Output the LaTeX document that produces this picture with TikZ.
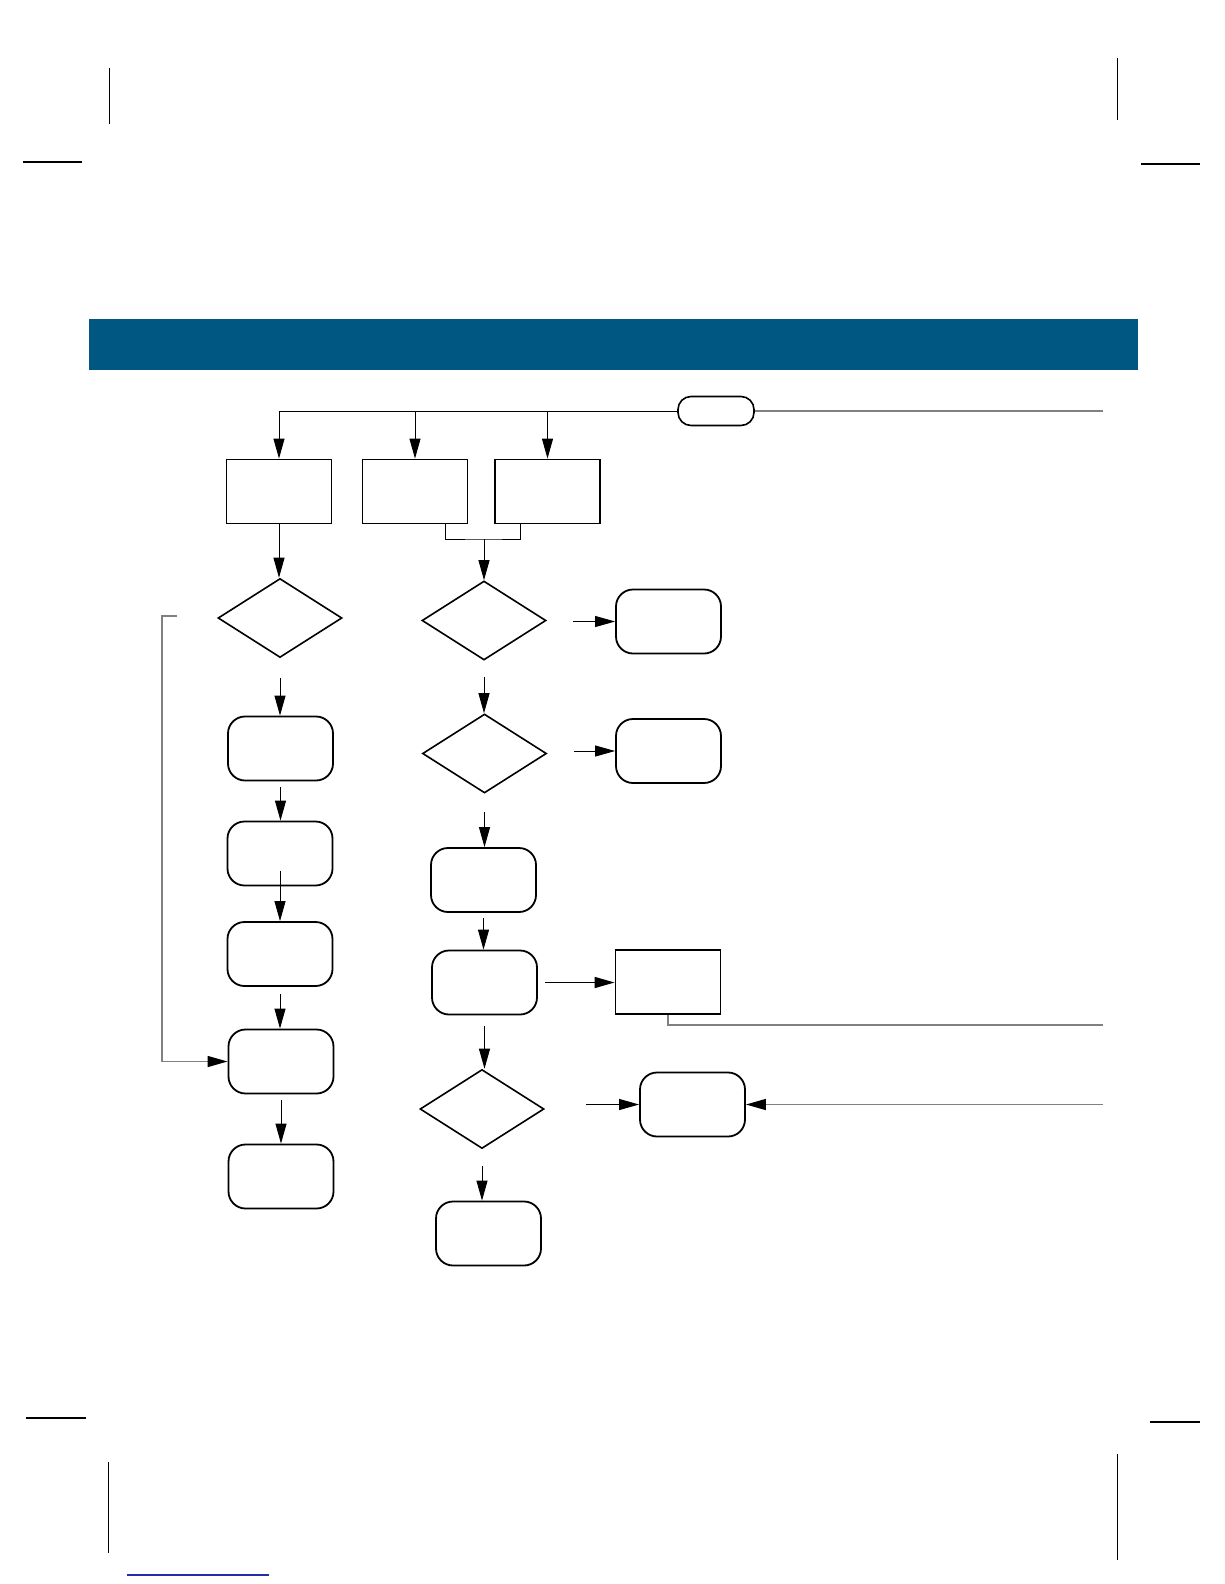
\documentclass[tikz,border=0pt]{standalone}
\usepackage{tikz}
\usetikzlibrary{shapes.geometric, arrows.meta, calc}
\definecolor{bannerblue}{RGB}{0,87,130}
\definecolor{linkblue}{RGB}{35,45,170}

\begin{document}
\begin{tikzpicture}[x=1pt, y=-1pt,
    box/.style={draw, line width=1.8pt, minimum width=105pt, minimum height=64pt, inner sep=0pt},
    roundbox/.style={box, rounded corners=17pt},
    decision/.style={draw, diamond, line width=1.6pt, minimum width=124pt, minimum height=79pt, inner sep=0pt},
    terminal/.style={draw, line width=1.6pt, rounded corners=13pt, minimum width=76pt, minimum height=29pt, inner sep=0pt},
    flow/.style={-{Triangle[length=20pt, width=11pt]}, line width=0.95pt},
    link/.style={line width=1.3pt, gray},
    crop/.style={line width=1pt, black}]
        \useasboundingbox (0,0) rectangle (1224,1584);
        % Crop marks
        \draw[crop] (109,68) -- (109,124);
        \draw[crop, line width=1.6pt] (23,162) -- (82,162);
        \draw[crop] (1117,58) -- (1117,120);
        \draw[crop, line width=1.6pt] (1141,164) -- (1200,164);
        \draw[crop, line width=1.6pt] (26,1418) -- (86,1418);
        \draw[crop] (108.5,1462) -- (108.5,1553);
        \draw[crop, line width=1.6pt] (1150,1422) -- (1200,1422);
        \draw[crop] (1117,1454) -- (1117,1560);
        \draw[linkblue, line width=1.5pt] (127,1575) -- (269,1575);
        % Banner
        \fill[bannerblue] (89,319) rectangle (1138,370);
        % Start
        \node[terminal] (start) at (716, 411) {};
        % Top row
        \node[box] (init) at (279, 491.5) {};
        \node[box] (optA) at (415, 491.5) {};
        \node[box] (optB) at (547.5, 491.5) {};
        % Left column
        \node[decision] (chkL) at (280, 618) {};
        \node[roundbox] (stepA) at (280.5, 748.5) {};
        \node[roundbox] (stepB) at (280, 853.5) {};
        \node[roundbox] (stepC) at (280, 954) {};
        \node[roundbox] (stepD) at (281, 1061.5) {};
        \node[roundbox] (stepE) at (281, 1176.5) {};
        % Middle column
        \node[decision] (chkA) at (484, 620.5) {};
        \node[decision] (chkB) at (484.5, 753.5) {};
        \node[roundbox] (procA) at (483.5, 880) {};
        \node[roundbox] (procB) at (484.5, 982.5) {};
        \node[decision] (chkC) at (482, 1109) {};
        \node[roundbox] (procC) at (488.5, 1233.5) {};
        % Right column
        \node[roundbox] (outA) at (668.5, 621.5) {};
        \node[roundbox] (outB) at (668.5, 751) {};
        \node[box] (store) at (668, 982) {};
        \node[roundbox] (outC) at (692.5, 1104.5) {};
        % Free ends
        \coordinate (edgeA) at (1103, 411);
        \coordinate (edgeB) at (1103, 1025);
        \coordinate (edgeC) at (1103, 1104.5);
        \coordinate (merge) at (484, 539);
        \coordinate (loop) at (177, 616);
        % Arrows from start
        \draw[line width=0.95pt] (start.west) -- (init.north |- start.west);
        \draw[flow] (init.north |- start.west) -- (init.north);
        \draw[flow] (optA.north |- start.west) -- (optA.north);
        \draw[flow] (optB.north |- start.west) -- (optB.north);
        \draw[link] (start.east) -- (edgeA);
        % Bracket
        \draw[line width=0.95pt] ($(optA.south)+(30,0)$) |- (merge) -| ($(optB.south)+(-27,0)$);
        \draw[flow] (merge) -- (chkA.north);
        % Left chain
        \draw[flow] (init.south) -- (init.south |- chkL.north);
        \draw[flow] ($(chkL.south)+(0,20)$) -- (chkL.south |- stepA.north);
        \draw[flow] ($(stepA.south)+(0,6)$) -- (stepA.south |- stepB.north);
        \draw[flow] ($(stepB.south)+(0,-15)$) -- (stepC.north);
        \draw[flow] ($(stepC.south)+(0,7)$) -- (stepC.south |- stepD.north);
        \draw[flow] ($(stepD.south)+(0,6)$) -- (stepE.north);
        \draw[link, -{Triangle[length=20pt, width=11pt, color=black]}] (loop) -- (162,616) |- (stepD.west);
        % Middle chain
        \draw[flow] ($(chkA.south)+(0,16)$) -- (chkA.south |- chkB.north);
        \draw[flow] ($(outA.west)+(-42,0)$) -- (outA.west);
        \draw[flow] ($(outB.west)+(-41,0)$) -- (outB.west);
        \draw[flow] ($(chkB.south)+(0,18)$) -- (chkB.south |- procA.north);
        \draw[flow] ($(procA.south)+(0,5)$) -- (procA.south |- procB.north);
        \draw[flow, line width=1.5pt] ($(procB.east)+(7,0)$) -- (procB.east -| store.west);
        \draw[link] (store.south) -- (store.south |- edgeB) -- (edgeB);
        \draw[flow] ($(procB.south)+(0,11)$) -- (procB.south |- chkC.north);
        \draw[flow] ($(outC.west)+(-53,0)$) -- (outC.west);
        \draw[link, -{Triangle[length=20pt, width=11pt, color=black]}] (edgeC) -- (outC.east);
        \draw[flow] ($(chkC.south)+(0,17)$) -- (chkC.south |- procC.north);
      \end{tikzpicture}
\end{document}
